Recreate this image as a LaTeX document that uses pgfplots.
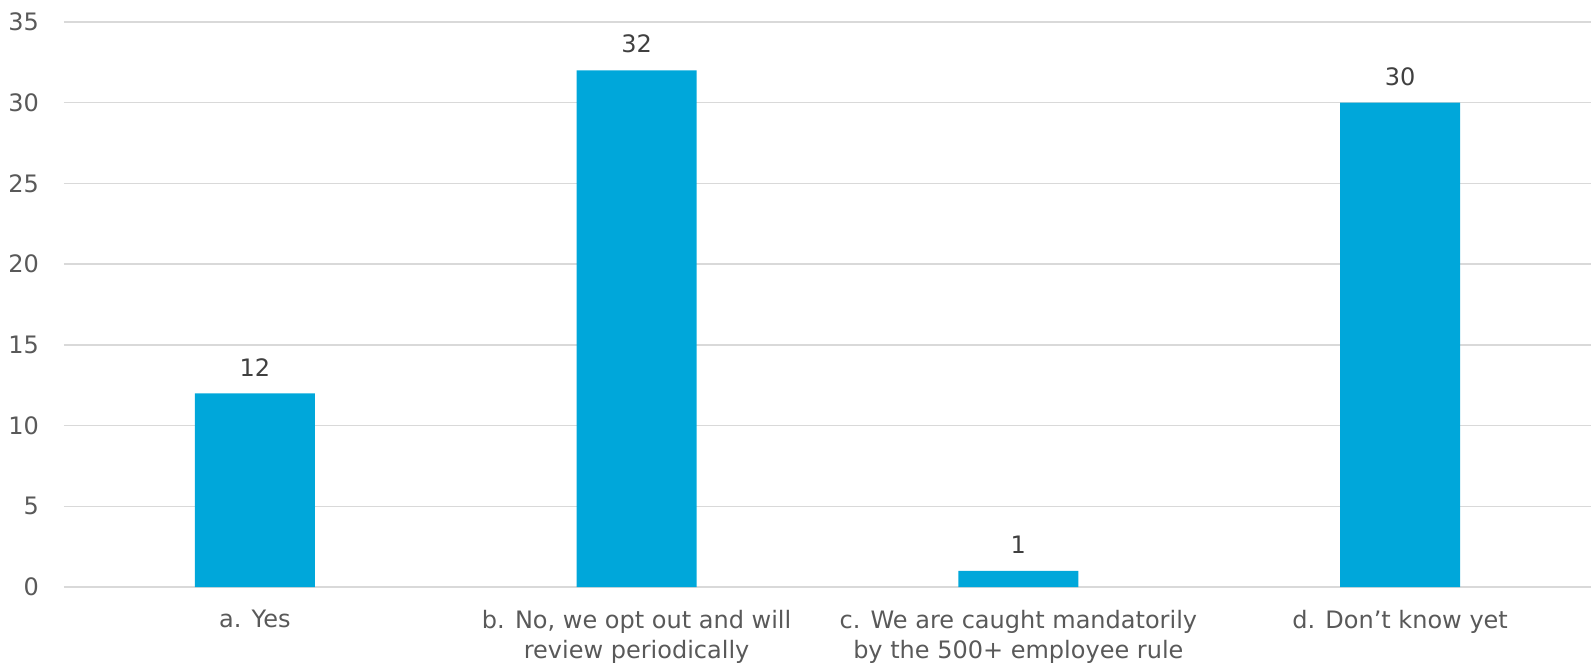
\documentclass[border=0pt]{standalone}
\usepackage{fontspec}
\setmainfont{DejaVu Sans}
\usepackage{pgfplots}
\pgfplotsset{compat=1.18}
\definecolor{barc}{HTML}{00A7DA}
\definecolor{gridc}{HTML}{D9D9D9}
\definecolor{tickc}{HTML}{595959}
\definecolor{labc}{HTML}{404040}
\begin{document}
\begin{tikzpicture}
\begin{axis}[
  scale only axis, width=1527pt, height=565pt,
  xmin=-0.5, xmax=3.5, ymin=0, ymax=35,
  xtick={0,1,2,3},
  xticklabels={a. Yes, {b. No, we opt out and will\\review periodically}, {c. We are caught mandatorily\\by the 500+ employee rule}, {d. Don’t know yet}},
  ytick={0,5,...,35},
  ymajorgrids, major grid style={draw=gridc, line width=1.3pt},
  axis line style={draw=none}, major tick length=0pt, tick style={draw=none},
  tick label style={font=\fontsize{24}{30}\selectfont, text=tickc},
  /pgf/number format/assume math mode=true,
  xticklabel style={align=center, inner sep=0pt, anchor=north, yshift=-23pt},
  yticklabel style={anchor=east, inner sep=0pt, xshift=-25pt},
  nodes near coords,
  nodes near coords style={font=\fontsize{24}{30}\selectfont, text=labc, anchor=south, inner sep=0pt, yshift=17pt},
  clip=false
]
\addplot[ybar, bar width=120pt, fill=barc, draw=none] coordinates {(0,12) (1,32) (2,1) (3,30)};
\coordinate (bl) at (rel axis cs:0,0);
\end{axis}
\pgfresetboundingbox
\path[use as bounding box] (bl) ++(-64pt,-80pt) rectangle ++(1591pt,667pt);
\end{tikzpicture}
\end{document}
